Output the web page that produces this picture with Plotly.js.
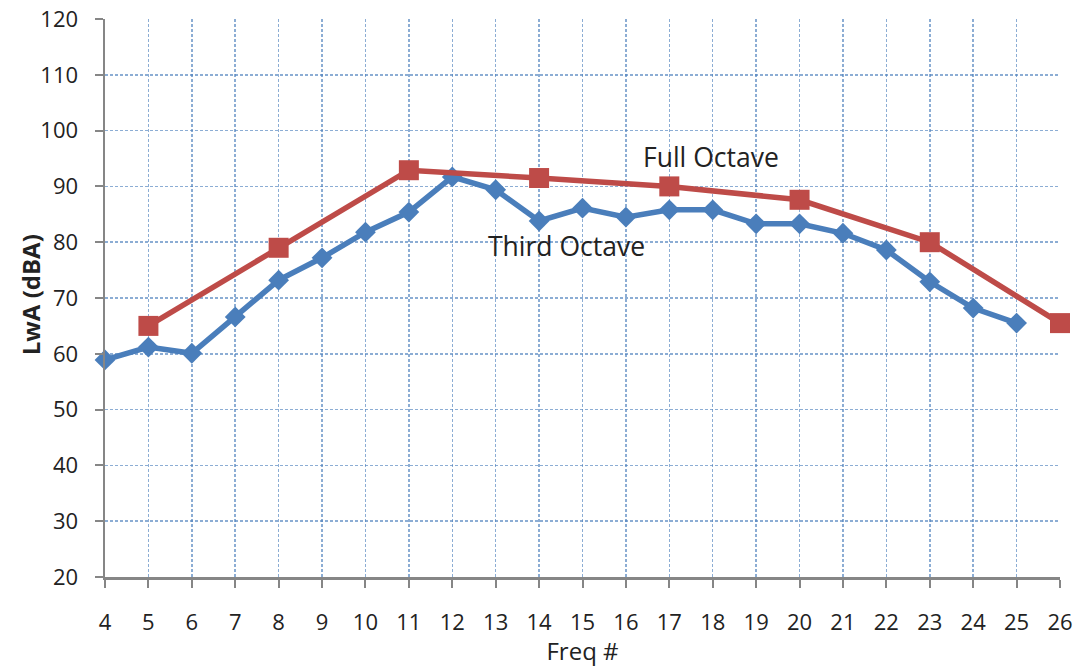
<!DOCTYPE html>
<html>
<head>
<meta charset="utf-8">
<script src="https://cdn.plot.ly/plotly-3.0.1.min.js"></script>
<style>html,body{margin:0;padding:0;background:#fff;}#chart{width:1079px;height:667px;}</style>
</head>
<body>
<div id="chart"></div>
<script>
const thirdX = [4,5,6,7,8,9,10,11,12,13,14,15,16,17,18,19,20,21,22,23,24,25];
const thirdY = [58.9,61.2,60.1,66.6,73.2,77.2,81.8,85.4,91.7,89.4,83.8,86.1,84.5,85.8,85.8,83.3,83.3,81.6,78.6,72.9,68.2,65.5];
const fullX = [5,8,11,14,17,20,23,26];
const fullY = [65,79,92.9,91.5,90,87.6,80,65.5];
const xTicks = [4,5,6,7,8,9,10,11,12,13,14,15,16,17,18,19,20,21,22,23,24,25,26];
const yTicks = [20,30,40,50,60,70,80,90,100,110,120];

const blue = '#4a7ebb', red = '#be4b48';
const font = "'Open Sans', 'Noto Sans', sans-serif";

const traces = [
  {x: thirdX, y: thirdY, type: 'scatter', mode: 'lines+markers', name: 'Third Octave',
   line: {color: blue, width: 5.5}, marker: {symbol: 'diamond', size: 16, color: blue}, cliponaxis: false},
  {x: fullX, y: fullY, type: 'scatter', mode: 'lines+markers', name: 'Full Octave',
   line: {color: red, width: 5.5}, marker: {symbol: 'square', size: 20, color: red}, cliponaxis: false}
];

const gridColor = 'rgba(79,129,189,0.65)';
const layout = {
  width: 1079, height: 667,
  margin: {l: 105, r: 19, t: 19, b: 90},
  paper_bgcolor: '#fff', plot_bgcolor: '#fff',
  showlegend: false,
  font: {family: font, size: 22, color: '#222'},
  xaxis: {
    range: [4, 26], tickvals: xTicks, ticktext: xTicks.map(String),
    showgrid: true, gridcolor: gridColor, gridwidth: 1.5, griddash: '3px,2px',
    showline: true, linecolor: '#868686', linewidth: 2.5,
    ticks: 'outside', ticklen: 8, tickcolor: '#868686', tickwidth: 2,
    ticklabelstandoff: 16,
    zeroline: false,
    tickfont: {family: font, size: 22, color: '#222'},
    title: {text: 'Freq #', font: {family: font, size: 24, color: '#222'}, standoff: 0}
  },
  yaxis: {
    range: [20, 120], tickvals: yTicks, ticktext: yTicks.map(String),
    showgrid: true, gridcolor: gridColor, gridwidth: 1.5, griddash: '3px,2px',
    showline: true, linecolor: '#868686', linewidth: 2.5,
    ticks: 'outside', ticklen: 8, tickcolor: '#868686', tickwidth: 2,
    ticklabelstandoff: 12,
    zeroline: false,
    tickfont: {family: font, size: 22, color: '#222'}
  },
  annotations: [
    {x: -0.0785, y: 0.505, xref: 'paper', yref: 'paper', text: '<b>LwA (dBA)</b>', showarrow: false,
     textangle: -90, font: {family: font, size: 24, color: '#222'}, xanchor: 'center', yanchor: 'middle'},
    {x: 17.95, y: 95.2, xref: 'x', yref: 'y', text: 'Full Octave', showarrow: false,
     font: {family: font, size: 26.5, color: '#222'}, xanchor: 'center', yanchor: 'middle'},
    {x: 14.63, y: 79.4, xref: 'x', yref: 'y', text: 'Third Octave', showarrow: false,
     font: {family: font, size: 26.5, color: '#222'}, xanchor: 'center', yanchor: 'middle'}
  ]
};

Plotly.newPlot('chart', traces, layout, {displayModeBar: false, staticPlot: true});
</script>
</body>
</html>
